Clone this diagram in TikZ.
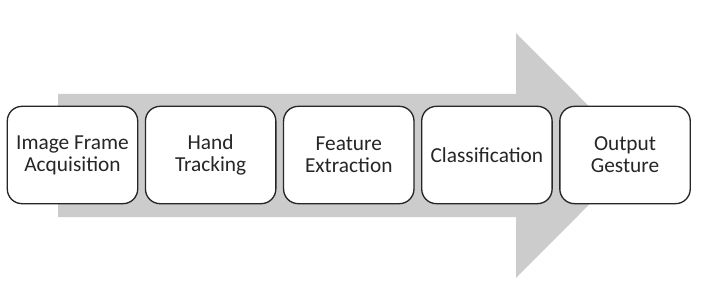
\documentclass[tikz,border=0pt]{standalone}
\usepackage{fontspec}
\setmainfont{Carlito}
\usetikzlibrary{positioning}
\definecolor{arrowgray}{RGB}{204,204,204}
\begin{document}
\begin{tikzpicture}[x=0.75pt,y=-0.75pt,
    stage/.style={draw=black!85, line width=1pt, fill=white, rounded corners=11pt,
                  minimum width=97.8pt, minimum height=73pt, align=center, outer sep=0pt,
                  font=\fontsize{16}{16.5}\selectfont, text=black!85},
    node distance=5.8pt]
            \useasboundingbox (0,0) rectangle (714,296);
            % big grey arrow behind the stages
            \fill[arrowgray] (58,94) -- (516,94) -- (516,33) -- (638,155.5)
                -- (516,278) -- (516,217) -- (58,217) -- cycle;
            \node[stage] (acq) at (72.5,155) {Image Frame\\Acquisition};
            \node[stage, right=of acq] (track) {Hand\\Tracking};
            \node[stage, right=of track] (feat) {Feature\\Extraction};
            \node[stage, right=of feat] (cls) {Classification};
            \node[stage, right=of cls] (out) {Output\\Gesture};
\end{tikzpicture}
\end{document}
